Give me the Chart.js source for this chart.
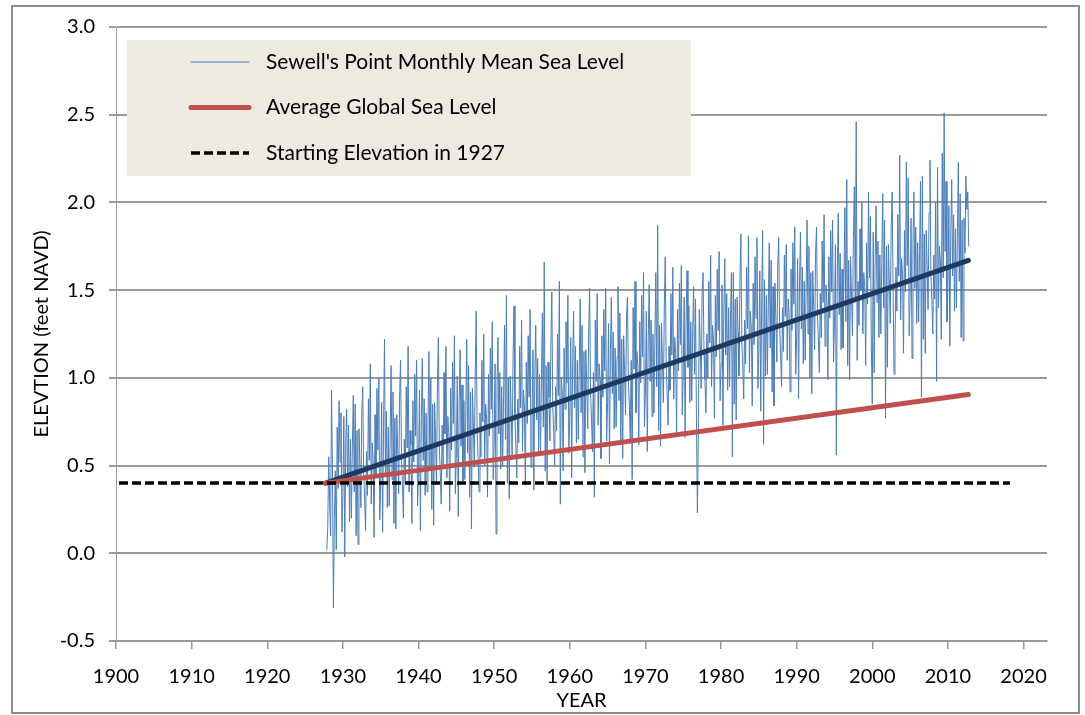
<!DOCTYPE html>
<html>
<head>
<meta charset="utf-8">
<title>Sewell's Point Sea Level</title>
<script src="https://cdn.jsdelivr.net/npm/chart.js@4.4.1/dist/chart.umd.min.js"></script>
<style>
  body { margin: 0; background: #fff; }
  canvas { display: block; }
</style>
</head>
<body>
<canvas id="SeaChart" width="1085" height="715"></canvas>
<script>
// Sewell's Point monthly mean sea level (8 readings per year)
const monthlyStart = 1927.875;
const perYear = 8;
const seaLevel = [
  0.02,
  0.15, 0.55, 0.30, 0.10, 0.93, 0.45, -0.31, 0.20,   // 1928
  0.47, 0.02, 0.72, 0.37, 0.87, 0.52, 0.80, 0.12,
  0.33, 0.78, -0.02, 0.63, 0.82, 0.38, 0.73, 0.18,   // 1930
  0.65, 0.20, 0.60, 0.90, 0.35, 0.85, 0.10, 0.70,
  0.05, 0.71, 0.51, 0.26, 0.81, 0.95, 0.46, 0.31,
  0.13, 0.58, 0.33, 0.88, 0.53, 1.08, 0.28, 0.63,
  0.54, 0.09, 0.79, 0.44, 0.94, 0.59, 1.00, 0.19,
  0.41, 0.86, 0.12, 0.71, 1.22, 0.46, 0.81, 0.26,    // 1935
  0.72, 0.27, 0.67, 1.07, 0.42, 0.92, 0.17, 0.77,
  0.14, 0.79, 0.59, 0.34, 0.89, 1.10, 0.54, 0.39,
  0.20, 0.65, 0.40, 0.95, 0.60, 1.18, 0.35, 0.70,
  0.62, 0.17, 0.87, 0.52, 1.02, 0.67, 1.10, 0.27,
  0.48, 0.93, 0.13, 0.78, 1.11, 0.53, 0.88, 0.33,    // 1940
  0.80, 0.35, 0.75, 1.15, 0.50, 1.00, 0.25, 0.85,
  0.16, 0.86, 0.66, 0.41, 0.96, 1.23, 0.61, 0.46,
  0.28, 0.73, 0.48, 1.03, 0.68, 1.18, 0.43, 0.78,
  0.69, 0.24, 0.94, 0.59, 1.09, 0.74, 1.24, 0.34,
  0.56, 1.01, 0.21, 0.86, 1.16, 0.61, 0.96, 0.41,    // 1945
  0.87, 0.42, 0.82, 1.22, 0.57, 1.07, 0.32, 0.92,
  0.14, 0.94, 0.74, 0.49, 1.04, 1.38, 0.69, 0.54,
  0.35, 0.80, 0.55, 1.10, 0.75, 1.25, 0.50, 0.85,
  0.77, 0.32, 1.02, 0.67, 1.17, 0.82, 1.32, 0.42,
  0.63, 1.08, 0.11, 0.93, 1.23, 0.68, 1.03, 0.48,    // 1950
  0.95, 0.50, 0.90, 1.30, 0.65, 1.47, 0.40, 1.00,
  0.31, 1.01, 0.81, 0.56, 1.11, 1.41, 0.76, 0.61,
  0.43, 0.88, 0.63, 1.18, 0.83, 1.33, 0.58, 0.93,
  0.84, 0.39, 1.09, 0.74, 1.24, 0.89, 1.39, 0.49,
  0.71, 1.16, 0.36, 1.01, 1.30, 0.76, 1.11, 0.56,    // 1955
  1.02, 0.57, 0.97, 1.37, 0.72, 1.66, 0.47, 1.07,
  0.39, 1.09, 0.89, 0.64, 1.19, 1.49, 0.84, 0.69,
  0.50, 0.95, 0.70, 1.25, 0.90, 1.55, 0.28, 1.00,
  0.92, 0.47, 1.17, 0.82, 1.32, 0.97, 1.47, 0.57,
  0.78, 1.23, 0.43, 1.08, 1.38, 0.83, 1.18, 0.63,    // 1960
  1.10, 0.65, 1.05, 1.45, 0.80, 1.30, 0.55, 1.15,
  0.46, 1.16, 0.96, 0.71, 1.26, 1.51, 0.91, 0.76,
  0.58, 1.03, 0.32, 1.33, 0.98, 1.48, 0.73, 1.08,
  0.99, 0.54, 1.24, 0.89, 1.39, 1.04, 1.51, 0.64,
  0.86, 1.31, 0.51, 1.16, 1.46, 0.91, 1.26, 0.71,    // 1965
  1.17, 0.72, 1.12, 1.52, 0.87, 1.37, 0.62, 1.22,
  0.54, 1.24, 1.04, 0.79, 1.34, 1.46, 0.99, 0.84,
  0.65, 1.10, 0.42, 1.40, 1.05, 1.55, 0.80, 1.15,
  1.07, 0.62, 1.32, 0.97, 1.47, 1.12, 1.60, 0.72,
  0.93, 1.38, 0.58, 1.23, 1.53, 0.98, 1.33, 0.78,    // 1970
  1.25, 0.80, 1.20, 1.60, 0.95, 1.87, 0.70, 1.30,
  0.61, 1.31, 1.11, 0.86, 1.41, 1.69, 1.06, 0.91,
  0.73, 1.18, 0.93, 1.48, 1.13, 1.63, 0.88, 1.23,
  1.14, 0.69, 1.39, 1.04, 1.54, 1.19, 1.64, 0.79,
  1.01, 1.46, 0.66, 1.31, 1.61, 1.06, 1.41, 0.86,    // 1975
  1.32, 0.87, 1.27, 1.52, 1.02, 1.45, 0.77, 0.23,
  0.69, 1.39, 1.19, 0.94, 1.49, 1.60, 1.14, 0.99,
  0.80, 1.25, 1.00, 1.55, 1.20, 1.70, 0.95, 1.30,
  1.22, 0.77, 1.47, 1.12, 1.62, 1.27, 1.72, 0.87,
  1.08, 1.53, 0.73, 1.38, 1.68, 1.13, 1.48, 0.93,    // 1980
  1.40, 0.95, 1.35, 1.60, 0.55, 1.60, 0.85, 1.45,
  0.76, 1.46, 1.26, 1.01, 1.56, 1.82, 1.21, 1.06,
  0.88, 1.33, 1.08, 1.63, 1.28, 1.81, 1.03, 1.38,
  1.29, 0.84, 1.54, 1.19, 1.69, 1.34, 1.80, 0.94,
  1.16, 1.61, 0.81, 1.46, 1.84, 0.62, 1.56, 1.01,    // 1985
  1.47, 1.02, 1.42, 1.77, 1.17, 1.67, 0.92, 1.52,
  0.84, 1.54, 1.34, 1.09, 1.64, 1.80, 1.29, 1.14,
  0.95, 1.40, 1.15, 1.70, 1.35, 1.76, 1.10, 1.45,
  1.37, 0.92, 1.62, 1.27, 1.77, 1.42, 1.86, 1.02,
  1.23, 1.68, 0.88, 1.53, 1.83, 1.28, 1.63, 1.08,    // 1990
  1.55, 1.10, 1.50, 1.90, 1.25, 1.75, 1.00, 1.60,
  0.91, 1.61, 1.41, 1.16, 1.71, 1.86, 1.36, 1.21,
  1.03, 1.48, 1.23, 1.78, 1.43, 1.93, 1.18, 1.53,
  1.44, 0.99, 1.69, 1.34, 1.84, 1.49, 1.90, 1.09,
  1.31, 1.76, 0.56, 1.61, 1.94, 1.36, 1.71, 1.16,    // 1995
  1.62, 1.17, 1.57, 1.97, 1.32, 2.13, 1.07, 1.67,
  0.99, 1.69, 1.49, 1.24, 1.79, 2.09, 1.44, 2.46,
  1.10, 1.55, 1.30, 1.85, 1.50, 2.00, 1.25, 1.60,
  1.52, 1.07, 1.77, 1.42, 2.06, 1.57, 1.92, 1.17,
  0.85, 1.83, 1.03, 1.68, 1.98, 1.43, 1.78, 1.23,    // 2000
  1.70, 1.25, 1.65, 2.05, 1.40, 1.90, 0.77, 1.75,
  1.06, 1.76, 1.56, 1.31, 1.86, 2.06, 1.51, 1.02,
  1.18, 1.63, 1.38, 1.93, 1.58, 2.27, 1.33, 1.68,
  1.59, 1.14, 1.84, 1.49, 2.23, 1.64, 2.14, 1.24,
  1.46, 1.91, 1.11, 1.76, 2.06, 1.51, 1.86, 1.31,    // 2005
  1.77, 1.32, 1.72, 2.12, 0.89, 2.15, 1.22, 1.82,
  1.14, 1.84, 1.64, 1.39, 1.94, 2.24, 1.59, 1.44,
  1.25, 1.70, 1.45, 2.00, 0.98, 2.20, 1.40, 1.75,
  1.67, 1.22, 2.28, 1.57, 2.51, 1.72, 2.12, 1.32,
  1.53, 1.98, 1.18, 1.83, 2.13, 1.58, 1.93, 1.38,    // 2010
  1.85, 1.40, 1.80, 2.23, 1.55, 2.05, 1.23, 1.90,
  1.21, 1.91, 1.71, 2.15, 1.96, 2.06, 1.75
];

// straight lines: end points only
const trendYears = [1927.7, 2012.7];
const trendLevel = [0.40, 1.67];
const globalYears = [1927.7, 2012.7];
const globalLevel = [0.40, 0.905];
const startYears = [1900.4, 2018.2];
const startLevel = [0.40, 0.40];

const yearTicks = [1900, 1910, 1920, 1930, 1940, 1950, 1960, 1970, 1980, 1990, 2000, 2010, 2020];

const FONT = 'Lato, "Open Sans", sans-serif';
Chart.defaults.font.family = FONT;
Chart.defaults.color = '#000';

function toPoints(xs, ys) {
  return xs.map((x, i) => ({ x: x, y: ys[i] }));
}

const monthlyPoints = seaLevel.map((v, i) => ({ x: monthlyStart + i / perYear, y: v }));

// outer frame and white background
const framePlugin = {
  id: 'frame',
  beforeDraw(chart) {
    const c = chart.ctx;
    c.save();
    c.fillStyle = '#fff';
    c.fillRect(0, 0, chart.width, chart.height);
    c.strokeStyle = '#8c8c8c';
    c.lineWidth = 2;
    c.strokeRect(12, 6, 1067, 707);
    c.restore();
  }
};

// legend box drawn inside the plot, like the Excel one
const legendPlugin = {
  id: 'boxLegend',
  afterDraw(chart) {
    const c = chart.ctx;
    const area = chart.chartArea;
    const left = area.left + 11, top = area.top + 13;
    c.save();
    c.fillStyle = '#EDEAE0';
    c.fillRect(left, top, 564, 136);
    c.font = '21px ' + FONT;
    c.textBaseline = 'middle';
    [0, 1, 2].forEach((di, row) => {
      const ds = chart.data.datasets[di];
      const y = top + 22 + row * 45.5;
      c.beginPath();
      c.strokeStyle = ds.borderColor;
      c.lineWidth = ds.borderWidth;
      c.lineCap = ds.borderDash ? 'butt' : 'round';
      c.setLineDash(ds.borderDash || []);
      c.moveTo(left + 64, y);
      c.lineTo(left + 122, y);
      c.stroke();
      c.setLineDash([]);
      c.fillStyle = '#000';
      c.fillText(ds.label, left + 139, y);
    });
    c.restore();
  }
};

const ctx = document.getElementById('SeaChart');

const SeaChart = new Chart(ctx, {
  type: 'line',
  data: {
    datasets: [{
      label: "Sewell's Point Monthly Mean Sea Level",
      data: monthlyPoints,
      borderColor: '#4A7EBB',
      borderWidth: 1,
      pointRadius: 0,
      order: 4
    }, {
      label: 'Average Global Sea Level',
      data: toPoints(globalYears, globalLevel),
      borderColor: '#C0504D',
      borderWidth: 5,
      borderCapStyle: 'round',
      pointRadius: 0,
      order: 2
    }, {
      label: 'Starting Elevation in 1927',
      data: toPoints(startYears, startLevel),
      borderColor: '#000',
      borderWidth: 3.5,
      borderDash: [9, 4],
      pointRadius: 0,
      order: 1
    }, {
      label: 'Trend',
      data: toPoints(trendYears, trendLevel),
      borderColor: '#1F3A60',
      borderWidth: 5,
      borderCapStyle: 'round',
      pointRadius: 0,
      order: 3
    }]
  },
  options: {
    responsive: false,
    animation: false,
    devicePixelRatio: 1,
    layout: { padding: { left: 0, top: 27, right: 38, bottom: 0 } },
    plugins: {
      legend: { display: false },
      tooltip: { enabled: false }
    },
    scales: {
      x: {
        type: 'linear',
        min: 1900,
        max: 2023.1,
        afterFit: s => { s.height = 74; },
        afterBuildTicks: s => { s.ticks = yearTicks.map(v => ({ value: v })); },
        ticks: {
          stepSize: 10,
          includeBounds: false,
          padding: 16,
          maxRotation: 0,
          font: { size: 20 },
          callback: v => String(v)
        },
        grid: {
          drawOnChartArea: false,
          drawTicks: true,
          tickLength: 8,
          color: '#9a9a9a',
          lineWidth: 1.5
        },
        border: { display: true, color: '#9a9a9a', width: 2 },
        title: {
          display: true,
          text: 'YEAR',
          font: { size: 20 },
          padding: { top: 0, bottom: 2 }
        }
      },
      y: {
        min: -0.5,
        max: 3.0,
        afterFit: s => { s.width = 116; },
        ticks: {
          stepSize: 0.5,
          padding: 14,
          font: { size: 20 },
          callback: v => v.toFixed(1)
        },
        grid: {
          color: '#9a9a9a',
          lineWidth: 2,
          tickLength: 7
        },
        border: { display: true, color: '#9a9a9a', width: 1 },
        title: {
          display: true,
          text: 'ELEVTION (feet NAVD)',
          font: { size: 20 },
          padding: { top: 30, bottom: 0 }
        }
      }
    }
  },
  plugins: [framePlugin, legendPlugin]
});
</script>
</body>
</html>
